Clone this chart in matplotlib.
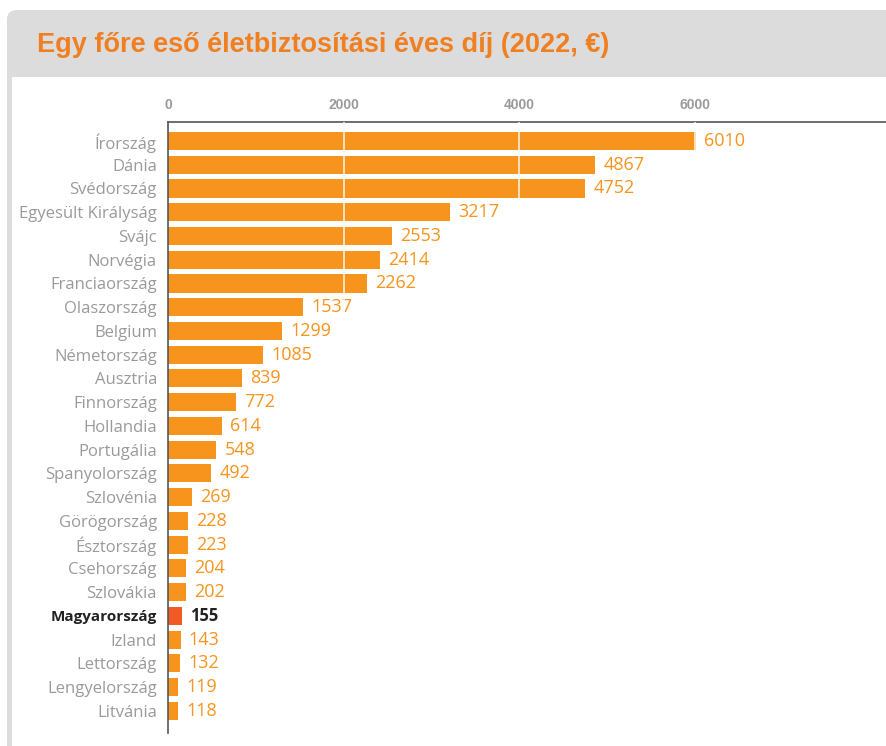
import matplotlib.pyplot as plt
from matplotlib.patches import FancyBboxPatch, Rectangle

countries = ["Írország", "Dánia", "Svédország", "Egyesült Királyság", "Svájc",
             "Norvégia", "Franciaország", "Olaszország", "Belgium", "Németország",
             "Ausztria", "Finnország", "Hollandia", "Portugália", "Spanyolország",
             "Szlovénia", "Görögország", "Észtország", "Csehország", "Szlovákia",
             "Magyarország", "Izland", "Lettország", "Lengyelország", "Litvánia"]
premiums = [6010, 4867, 4752, 3217, 2553, 2414, 2262, 1537, 1299, 1085,
            839, 772, 614, 548, 492, 269, 228, 223, 204, 202,
            155, 143, 132, 119, 118]
highlight = "Magyarország"
x_ticks = [0, 2000, 4000, 6000]

ORANGE = "#F7941D"
RED = "#F15A24"
TITLE = "#F07F22"
GRAY = "#9A9A9A"
FONT = "Open Sans"

W, H = 886, 746
fig = plt.figure(figsize=(W / 100, H / 100), dpi=100)
fig.patch.set_facecolor("white")

# card background: gray header + gray left border, white body
card = FancyBboxPatch((7 / W, -0.05), 1.2, (H - 10) / H + 0.05,
                      boxstyle="round,pad=0,rounding_size=0.012",
                      transform=fig.transFigure, facecolor="#DCDCDC",
                      edgecolor="none", zorder=-2)
fig.patches.append(card)
body = Rectangle((12 / W, -0.05), 1.2, (H - 77) / H + 0.05,
                 transform=fig.transFigure, facecolor="white",
                 edgecolor="none", zorder=-1)
fig.patches.append(body)

fig.text(37 / W, 1 - 45 / H, "Egy főre eső életbiztosítási éves díj (2022, €)",
         color=TITLE, fontsize=19.5, fontweight="bold",
         family="Liberation Sans", va="center", ha="left")

left, right = 168 / W, 1.0
top, bottom = 1 - 122 / H, 1 - 733 / H
ax = fig.add_axes([left, bottom, right - left, top - bottom])
ax.set_facecolor("none")
ax.set_zorder(2)

ypos = list(range(len(countries)))
colors = [RED if c == highlight else ORANGE for c in countries]
ax.barh(ypos, premiums, height=0.76, color=colors, zorder=2)

for y, v, c in zip(ypos, premiums, countries):
    hl = c == highlight
    ax.text(v + 95, y, str(v), va="center", ha="left",
            fontsize=12 if hl else 13,
            family=FONT, color="#222222" if hl else ORANGE,
            fontweight="bold" if hl else "normal")

ax.set_xlim(0, 8180)
ax.set_ylim(len(countries) - 1 + 0.93, -0.8)

ax.xaxis.tick_top()
ax.set_xticks(x_ticks)
ax.set_xticklabels([str(t) for t in x_ticks], fontsize=10, fontweight="bold",
                   family="Liberation Sans", color="#9A9A9A")
ax.tick_params(axis="x", length=0, pad=7)
for t in x_ticks[1:]:
    ax.axvline(t, color="white", lw=1.2, alpha=0.85, zorder=3)

ax.set_yticks(ypos)
ax.set_yticklabels(countries, fontsize=12, family=FONT, color=GRAY)
ax.tick_params(axis="y", length=0, pad=8)
for lbl in ax.get_yticklabels():
    if lbl.get_text() == highlight:
        lbl.set_color("#222222")
        lbl.set_fontweight("bold")
        lbl.set_fontsize(11)

for s in ["right", "bottom"]:
    ax.spines[s].set_visible(False)
ax.spines["top"].set_color("#555555")
ax.spines["left"].set_color("#555555")
ax.spines["top"].set_linewidth(1.2)
ax.spines["left"].set_linewidth(1.2)

fig.savefig("out.png", dpi=100)
